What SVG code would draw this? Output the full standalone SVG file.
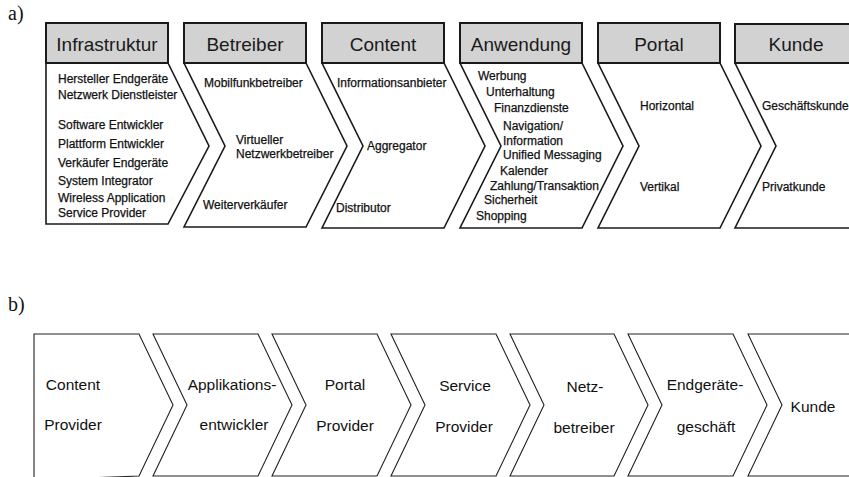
<svg xmlns="http://www.w3.org/2000/svg" width="849" height="477" viewBox="0 0 849 477">
<style>
.bg{fill:#fff}
.hdr{fill:#d2d2d2;stroke:#1a1a1a;stroke-width:2}
.ht{font-family:"Liberation Sans",Arial,sans-serif;font-size:19px;fill:#1a1a1a;text-anchor:middle}
.body{fill:#fff;stroke:#1a1a1a;stroke-width:1.6;stroke-linejoin:miter}
.t{font-family:"Liberation Sans",Arial,sans-serif;font-size:12px;fill:#111;stroke:#111;stroke-width:0.25}
.lbl{font-family:"Liberation Serif","Times New Roman",serif;font-size:20px;fill:#111}
.cb{fill:#fff;stroke:#222;stroke-width:1.1}
.bt{font-family:"Liberation Sans",Arial,sans-serif;font-size:15.5px;fill:#111;text-anchor:middle}
</style>
<rect class="bg" x="0" y="0" width="849" height="477"/>
<text class="lbl" x="8" y="20">a)</text>
<text class="lbl" x="8" y="311">b)</text>

<g id="a-infrastruktur">
<polygon class="body" points="46,63 168,63 209,146 168,224 46,224"/>
<rect class="hdr" x="46" y="23" width="122" height="40"/>
<text class="ht" x="107" y="51">Infrastruktur</text>
<text class="t" x="58" y="83">Hersteller Endgeräte</text>
<text class="t" x="58" y="99">Netzwerk Dienstleister</text>
<text class="t" x="58" y="129">Software Entwickler</text>
<text class="t" x="58" y="148">Plattform Entwickler</text>
<text class="t" x="58" y="167">Verkäufer Endgeräte</text>
<text class="t" x="58" y="185">System Integrator</text>
<text class="t" x="58" y="202">Wireless Application</text>
<text class="t" x="58" y="217">Service Provider</text>
</g>

<g id="a-betreiber">
<polygon class="body" points="184,63 306,63 347,146 306,227 184,227 225,146"/>
<rect class="hdr" x="184" y="23" width="122" height="40"/>
<text class="ht" x="245" y="51">Betreiber</text>
<text class="t" x="204" y="87">Mobilfunkbetreiber</text>
<text class="t" x="236" y="144">Virtueller</text>
<text class="t" x="236" y="158">Netzwerkbetreiber</text>
<text class="t" x="203" y="209">Weiterverkäufer</text>
</g>

<g id="a-content">
<polygon class="body" points="322,63 444,63 485,146 444,228 322,228 363,146"/>
<rect class="hdr" x="322" y="23" width="122" height="40"/>
<text class="ht" x="383" y="51">Content</text>
<text class="t" x="337" y="87">Informationsanbieter</text>
<text class="t" x="367" y="150">Aggregator</text>
<text class="t" x="336" y="212">Distributor</text>
</g>

<g id="a-anwendung">
<polygon class="body" points="460,63 582,63 623,146 582,228 460,228 501,146"/>
<rect class="hdr" x="460" y="23" width="122" height="40"/>
<text class="ht" x="521" y="51">Anwendung</text>
<text class="t" x="478" y="80">Werbung</text>
<text class="t" x="486" y="96">Unterhaltung</text>
<text class="t" x="494" y="112">Finanzdienste</text>
<text class="t" x="503" y="130">Navigation/</text>
<text class="t" x="503" y="145">Information</text>
<text class="t" x="503" y="159">Unified Messaging</text>
<text class="t" x="500" y="175">Kalender</text>
<text class="t" x="490" y="190">Zahlung/Transaktion</text>
<text class="t" x="484" y="204">Sicherheit</text>
<text class="t" x="476" y="220">Shopping</text>
</g>

<g id="a-portal">
<polygon class="body" points="598,63 720,63 761,146 720,228 598,228 639,146"/>
<rect class="hdr" x="598" y="23" width="122" height="40"/>
<text class="ht" x="659" y="51">Portal</text>
<text class="t" x="640" y="110">Horizontal</text>
<text class="t" x="640" y="191">Vertikal</text>
</g>

<g id="a-kunde">
<polygon class="body" points="735,63 858,63 858,228 735,228 776,146"/>
<rect class="hdr" x="735" y="24" width="122" height="39"/>
<text class="ht" x="796" y="51">Kunde</text>
<text class="t" x="762" y="110">Geschäftskunde</text>
<text class="t" x="762" y="191">Privatkunde</text>
</g>

<g id="b-content-provider">
<polygon class="cb" points="34,480 34,334 139,334 173,405 139,476"/>
<text class="bt" x="73" y="390">Content</text>
<text class="bt" x="73" y="430">Provider</text>
</g>
<g id="b-applikationsentwickler">
<polygon class="cb" points="153,334 258,334 292,405 258,476 153,476 187,405"/>
<text class="bt" x="232" y="390">Applikations-</text>
<text class="bt" x="234" y="430">entwickler</text>
</g>
<g id="b-portal-provider">
<polygon class="cb" points="272,334 377,334 411,405 377,476 272,476 306,405"/>
<text class="bt" x="345" y="390">Portal</text>
<text class="bt" x="345" y="431">Provider</text>
</g>
<g id="b-service-provider">
<polygon class="cb" points="391,334 496,334 530,405 496,476 391,476 425,405"/>
<text class="bt" x="465" y="391">Service</text>
<text class="bt" x="464" y="432">Provider</text>
</g>
<g id="b-netzbetreiber">
<polygon class="cb" points="510,334 614,334 648,405 614,476 510,476 544,405"/>
<text class="bt" x="585" y="392">Netz-</text>
<text class="bt" x="584" y="433">betreiber</text>
</g>
<g id="b-endgeraetegeschaeft">
<polygon class="cb" points="628,334 733,334 767,405 733,476 628,476 662,405"/>
<text class="bt" x="705" y="390">Endgeräte-</text>
<text class="bt" x="706" y="432">geschäft</text>
</g>
<g id="b-kunde">
<polygon class="cb" points="748,334 860,334 860,476 748,476 782,405"/>
<text class="bt" x="813" y="412">Kunde</text>
</g>
</svg>
